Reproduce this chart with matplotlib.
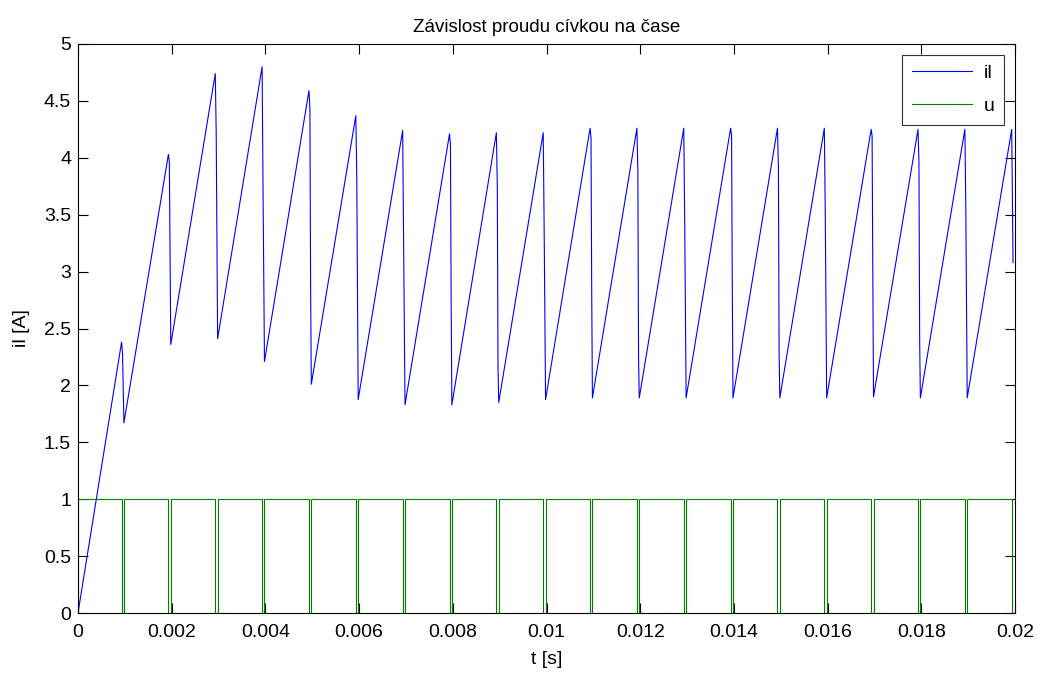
import numpy as np
import matplotlib
matplotlib.use("Agg")
import matplotlib.pyplot as plt

nan = np.nan

# Switching instants of the control voltage u (switch opens / closes)
t_off = [0.00093, 0.00193, 0.00293, 0.00393, 0.00493, 0.00593, 0.00693,
         0.00793, 0.00893, 0.00993, 0.01093, 0.01193, 0.01293, 0.01393,
         0.01493, 0.01593, 0.01693, 0.01793, 0.01893, 0.01993]
t_on = [0.00098, 0.00198, 0.00298, 0.00398, 0.00498, 0.00598, 0.00698,
        0.00798, 0.00898, 0.00998, 0.01098, 0.01198, 0.01298, 0.01398,
        0.01498, 0.01598, 0.01698, 0.01798, 0.01898, 0.02000]

# Coil current at the start, at each peak, along each fall and at each trough [A]
i_start = 0.0
i_peak = [2.38, 4.03, 4.74, 4.80, 4.59, 4.37, 4.24, 4.21, 4.22, 4.22,
          4.26, 4.26, 4.26, 4.26, 4.26, 4.26, 4.25, 4.25, 4.25, 4.25]
i_shoulder = [2.29, 3.96, nan, nan, 4.43, nan, nan, 4.12, nan, nan,
              4.18, nan, nan, 4.20, nan, nan, 4.19, nan, nan, nan]
i_kink1 = [nan, nan, 4.22, 3.70, 2.87, 3.84, 3.26, 2.73, 3.75, 3.37,
           2.82, 3.88, 3.43, 2.93, 3.92, 3.52, 2.99, 3.96, 3.56, nan]
i_kink2 = [nan, nan, nan, nan, nan, nan, nan, nan, 2.16, nan,
           nan, 2.24, nan, nan, 2.29, nan, nan, 2.40, nan, nan]
i_trough = [1.67, 2.36, 2.41, 2.21, 2.01, 1.875, 1.83, 1.83, 1.85, 1.875,
            1.89, 1.89, 1.89, 1.89, 1.89, 1.89, 1.90, 1.89, 1.89, 3.08]

u_high, u_low = 1.0, 0.0

x_ticks = [0, 0.002, 0.004, 0.006, 0.008, 0.01, 0.012, 0.014, 0.016, 0.018, 0.02]
x_ticklabels = ["0", "0.002", "0.004", "0.006", "0.008", "0.01", "0.012",
                "0.014", "0.016", "0.018", "0.02"]
y_ticks = [0, 0.5, 1, 1.5, 2, 2.5, 3, 3.5, 4, 4.5, 5]
y_ticklabels = ["0", "0.5", "1", "1.5", "2", "2.5", "3", "3.5", "4", "4.5", "5"]

# --- build the current trace: linear rise while u is high, fast fall while it is low
t_il = [0.0]
v_il = [i_start]
for k in range(len(i_peak)):
    fall = [i_peak[k]] + [v for v in (i_shoulder[k], i_kink1[k], i_kink2[k])
                          if not np.isnan(v)] + [i_trough[k]]
    # the fall happens almost instantly after the peak, then the trace
    # steps through the intermediate values
    n = len(fall)
    times = np.concatenate(([t_off[k]],
                            np.linspace(t_off[k] + 0.4 * (t_on[k] - t_off[k]),
                                        t_on[k], n - 1)))
    t_il.extend(times)
    v_il.extend(fall)

# --- build the square wave u
t_u = [0.0, 0.0]
v_u = [u_low, u_high]
for a, b in zip(t_off, t_on):
    t_u += [a, a]
    v_u += [u_high, u_low]
    if b < 0.02:
        t_u += [b, b]
        v_u += [u_low, u_high]
    else:
        t_u += [b]
        v_u += [u_low]

plt.rcParams["font.family"] = ["Liberation Sans", "DejaVu Sans"]
fs = 14

fig = plt.figure(figsize=(10.38, 6.75), dpi=100)
ax = fig.add_axes([78 / 1038, 62 / 675, 937 / 1038, 569 / 675])

ax.plot(t_il, v_il, color=(0, 0, 1), lw=0.8, label="il")
ax.plot(t_u, v_u, color=(0, 0.5, 0), lw=0.8, label="u")

ax.set_xlim(0, 0.02)
ax.set_ylim(0, 5)
ax.set_xticks(x_ticks)
ax.set_xticklabels(x_ticklabels)
ax.set_yticks(y_ticks)
ax.set_yticklabels(y_ticklabels)
ax.tick_params(direction="in", top=True, right=True, length=7, width=0.8,
               labelsize=fs)
ax.tick_params(axis="x", pad=8)
ax.tick_params(axis="y", pad=5)
for s in ax.spines.values():
    s.set_linewidth(0.8)
    s.set_color("black")

ax.set_title("Závislost proudu cívkou na čase", fontsize=fs - 0.5, pad=9)
ax.set_xlabel("t [s]", fontsize=fs, labelpad=7)
ax.set_ylabel("il [A]", fontsize=fs, labelpad=10)

leg = ax.legend(loc="upper right", fontsize=fs, frameon=True, fancybox=False,
                handlelength=3.1, borderaxespad=0.55, borderpad=0.5,
                labelspacing=0.8, handletextpad=0.6)
leg.get_frame().set_edgecolor("black")
leg.get_frame().set_linewidth(0.8)

fig.savefig("out.png", dpi=100)
